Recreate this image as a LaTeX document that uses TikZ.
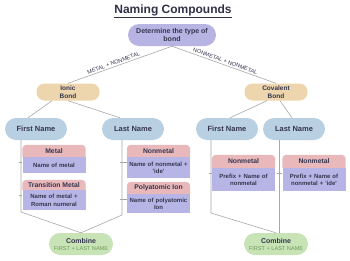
\documentclass[tikz,border=0pt]{standalone}
\usepackage{fontspec}
\setmainfont{Liberation Sans}
\usetikzlibrary{backgrounds}
\definecolor{ink}{HTML}{35364F}
\definecolor{detC}{HTML}{B7B3E3}
\definecolor{bondC}{HTML}{EDD5AE}
\definecolor{nameC}{HTML}{B9D0E3}
\definecolor{hdC}{HTML}{E8B8BB}
\definecolor{bdC}{HTML}{B7B5E6}
\definecolor{cmbC}{HTML}{C8E3B6}
\definecolor{cmbT}{HTML}{6E9A58}
\definecolor{lineC}{HTML}{A8A8A8}

\begin{document}
\begin{tikzpicture}[x=1pt,y=-1pt,
  link/.style={draw=lineC,line width=0.6pt},
  pill/.style={align=center,text=ink,inner sep=1pt,font=\bfseries\fontsize{7.5}{8.5}\selectfont},
  bondbox/.style={pill,fill=bondC,minimum width=63pt,minimum height=17pt,rounded corners=8pt,font=\bfseries\fontsize{6.5}{7.5}\selectfont},
  namebox/.style={pill,fill=nameC,minimum width=62pt,minimum height=22pt,rounded corners=11pt},
  combbox/.style={pill,fill=cmbC,minimum width=64pt,minimum height=22pt,rounded corners=11pt,font=\bfseries\fontsize{7}{8}\selectfont},
  hdbox/.style={minimum width=63pt,inner sep=0pt,text=ink,font=\bfseries\fontsize{6.8}{8}\selectfont},
  bdbox/.style={fill=bdC,text width=62pt,inner xsep=0.5pt,inner ysep=2pt,align=center,text=ink,font=\bfseries\fontsize{6}{7.4}\selectfont,anchor=north},
  edgelab/.style={font=\fontsize{5.6}{6}\selectfont,text=ink,sloped,above,inner sep=1.5pt}]
\useasboundingbox (0,0) rectangle (350,260);

% title and top
\node[text=ink!90!black,font=\bfseries\fontsize{12}{14}\selectfont] (title) at (173,11) {\underline{Naming Compounds}};
\node[pill,fill=detC,minimum width=88pt,minimum height=22pt,rounded corners=11pt,font=\bfseries\fontsize{7}{8}\selectfont] (det) at (172,35) {Determine the type of\\bond};

% bonds
\node[bondbox] (ionic) at (68,92) {Ionic\\Bond};
\node[bondbox] (cov) at (276,92) {Covalent\\Bond};

% names
\node[namebox] (fnL) at (36,129) {First Name};
\node[namebox] (lnL) at (133,129) {Last Name};
\node[namebox] (fnR) at (227,129) {First Name};
\node[namebox] (lnR) at (294,129) {Last Name};

% combine
\node[combbox] (combL) at (81,244) {Combine\\[-1pt]{\mdseries\fontsize{5.6}{6}\selectfont\color{cmbT}FIRST + LAST NAME}};
\node[combbox] (combR) at (276,244) {Combine\\[-1pt]{\mdseries\fontsize{5.6}{6}\selectfont\color{cmbT}FIRST + LAST NAME}};

% boxes: header + body
\node[hdbox,minimum height=12pt] (metalh) at (54,151) {Metal};
\node[bdbox,minimum height=16pt] (metalb) at (metalh.south) {Name of metal};
\node[hdbox,minimum height=10pt] (transh) at (54,185) {Transition Metal};
\node[bdbox,minimum height=20pt] (transb) at (transh.south) {Name of metal +\\Roman numeral};
\node[hdbox,minimum height=12pt] (nonh) at (158.5,151) {Nonmetal};
\node[bdbox,minimum height=21pt] (nonb) at (nonh.south) {Name of nonmetal +\\\textquotesingle ide\textquotesingle};
\node[hdbox,minimum height=12pt] (polyh) at (158.5,188) {Polyatomic Ion};
\node[bdbox,minimum height=19pt] (polyb) at (polyh.south) {Name of polyatomic\\Ion};
\node[hdbox,minimum height=13pt] (nonAh) at (243.5,161.5) {Nonmetal};
\node[bdbox,minimum height=23pt] (nonAb) at (nonAh.south) {Prefix + Name of\\nonmetal};
\node[hdbox,minimum height=13pt] (nonBh) at (314,161.5) {Nonmetal};
\node[bdbox,minimum height=23pt] (nonBb) at (nonBh.south) {Prefix + Name of\\nonmetal + \textquotesingle ide\textquotesingle};

\begin{scope}[on background layer]
\foreach \bx in {metal,trans,non,poly,nonA,nonB}
  \fill[hdC] (\bx h.south west) [rounded corners=4pt] -- (\bx h.north west) -- (\bx h.north east) [sharp corners] -- (\bx h.south east) -- cycle;
\end{scope}

% connectors
\draw[link] (det.south) -- node[edgelab,pos=0.55]{METAL + NONMETAL} (ionic.north);
\draw[link] (det.south) -- node[edgelab,pos=0.5]{NONMETAL + NONMETAL} (cov.north);
\draw[link] ([xshift=-16pt]ionic.south) -- ([xshift=-8pt]fnL.north);
\draw[link] (ionic.south) -- ([xshift=-13pt]lnL.north);
\draw[link] ([xshift=-9pt]cov.south) -- ([xshift=3pt]fnR.north);
\draw[link] ([xshift=4pt]cov.south) -- ([xshift=-2pt]lnR.north);

\coordinate (kL1) at (21,212);
\coordinate (kL2) at (122,215);
\coordinate (kR1) at (211,213);
\coordinate (kR2) at (279,0);
\draw[link] (fnL.south -| kL1) -- (kL1) -- (combL.north);
\draw[link] (lnL.south -| kL2) -- (kL2) -- (combL.north);
\draw[link] (fnR.south -| kR1) -- (kR1) -- (combR.north);
\draw[link] (lnR.south -| kR2) -- (combR.north -| kR2);
\foreach \bx/\k in {metal/kL1,trans/kL1,non/kL2,poly/kL2,nonA/kR1,nonB/kR2} {
  \coordinate (t) at ([yshift=-5pt]\bx b.north west);
  \draw[link] ([xshift=-2pt]t -| \k) -- (t);
}
\end{tikzpicture}
\end{document}
